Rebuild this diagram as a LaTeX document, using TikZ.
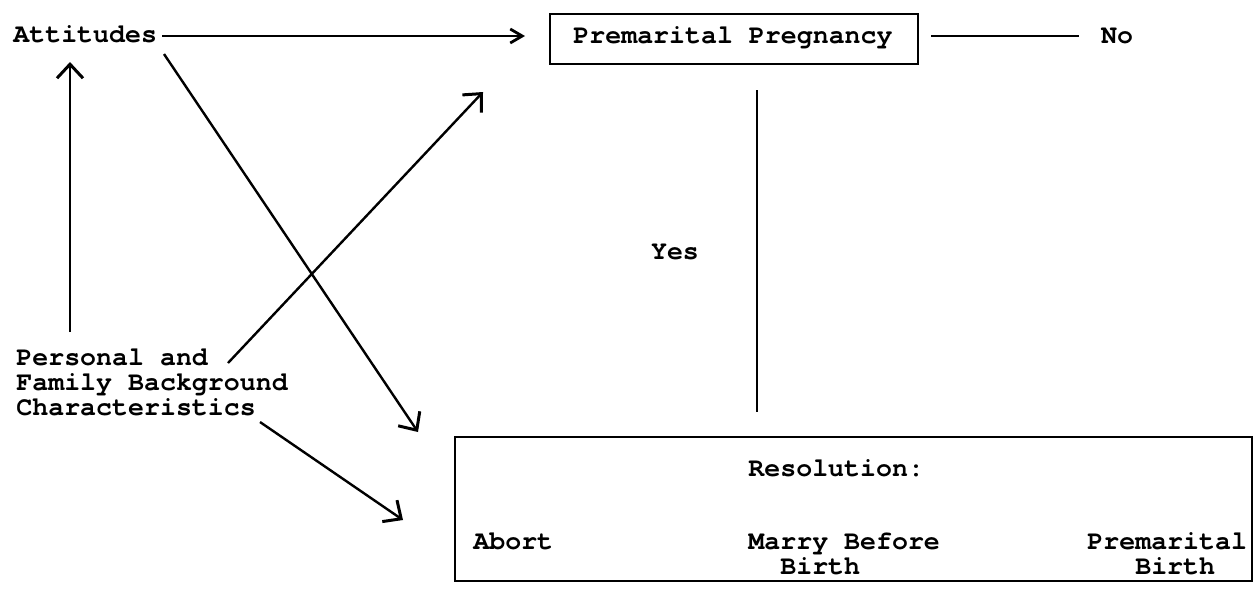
\documentclass[tikz,border=0pt]{standalone}
\usepackage{fontspec}
\setmainfont{TeX Gyre Cursor}
\usetikzlibrary{arrows.meta}
\begin{document}
\begin{tikzpicture}[x=0.5pt,y=-0.5pt,
  txt/.style={inner sep=0pt,font=\fontsize{13.3}{12.5}\selectfont\bfseries},
  box/.style={draw,line width=0.75pt,inner sep=0pt},
  thin/.style={line width=0.8pt},
  diag/.style={line width=1.2pt},
  tip/.style={-{Straight Barb[length=7pt,width=13pt,line width=1.5pt]}},
  stip/.style={-{Straight Barb[length=6pt,width=7pt,line width=1.4pt]}}]
\useasboundingbox (0,0) rectangle (1256,602);
% nodes
\node[txt,anchor=base west] (att) at (13,42) {Attitudes};
\node[box,minimum width=184pt,minimum height=25pt] (preg) at (734,39) {};
\node[txt,anchor=base] (pregt) at (733,43) {Premarital Pregnancy};
\node[txt,anchor=base] (no) at (1117,43) {No};
\node[txt,anchor=base] (yes) at (675,259) {Yes};
\node[txt,anchor=base west,align=left] (pers) at (16,415) {Personal and\\Family Background\\Characteristics};
\node[box,minimum width=398.5pt,minimum height=72pt] (res) at (853.5,509) {};
\node[txt,anchor=base west] (rest) at (748,476) {Resolution:};
\node[txt,anchor=base west] (abort) at (473,549) {Abort};
\node[txt,anchor=base west,align=left] (marry) at (748,574) {Marry Before\\\phantom{Ma}Birth};
\node[txt,anchor=base west,align=left] (pmb) at (1087,574) {Premarital\\\phantom{Pre}Birth};
% free ends
\coordinate (a1) at (162,36);
\coordinate (a2) at (525,36);
\coordinate (n1) at (931,36);
\coordinate (n2) at (1079,36);
\coordinate (v1) at (757,90);
\coordinate (v2) at (757,412);
\coordinate (u1) at (70,332);
\coordinate (u2) at (70,62);
\coordinate (d1) at (164,54);
\coordinate (d2) at (418,432);
\coordinate (p1) at (228,363);
\coordinate (p2) at (483,92);
\coordinate (c1) at (260,422);
\coordinate (c2) at (403,520);
% connectors
\draw[thin,stip] (a1) -- (a2);
\draw[thin] (n1) -- (n2);
\draw[thin] (v1) -- (v2);
\draw[thin,tip] (u1) -- (u2);
\draw[diag,tip] (d1) -- (d2);
\draw[diag,tip] (p1) -- (p2);
\draw[diag,tip] (c1) -- (c2);
\end{tikzpicture}
\end{document}
